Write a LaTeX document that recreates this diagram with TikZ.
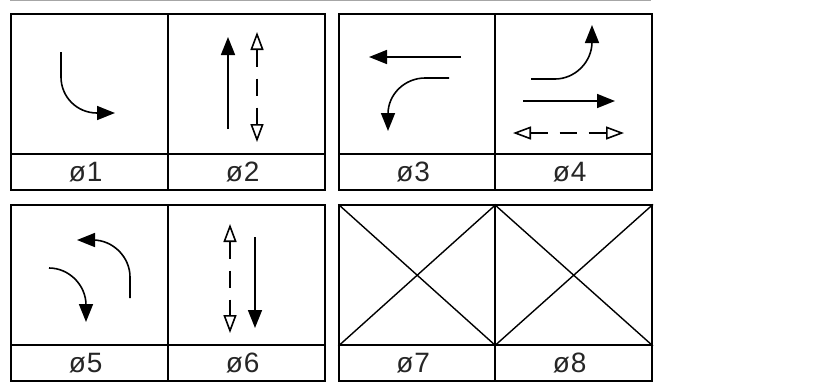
\documentclass[tikz,border=0pt]{standalone}
\usepackage{fontspec}
\setmainfont{Liberation Sans}
\usetikzlibrary{arrows.meta}
\tikzset{
  cell/.style={draw=black,line width=1.6bp,inner sep=0pt,minimum width=157bp,minimum height=140bp,anchor=north west},
  labelcell/.style={draw=black,line width=1.6bp,inner sep=0pt,minimum width=157bp,minimum height=36bp,anchor=north west,font=\fontsize{28bp}{28bp}\selectfont,text=black!85},
  narrow/.style={minimum width=156bp},
  lane/.style={line width=1.6bp,draw=black},
  solidhead/.style={lane,-{Triangle[length=18bp,width=14bp]}},
  openboth/.style={lane,dash pattern=on 17bp off 12bp,{Triangle[open,length=18bp,width=13bp]}-{Triangle[open,length=18bp,width=13bp]}},
  xline/.style={line width=1.4bp,draw=black}
}
\newcommand{\phaselabel}[1]{\raisebox{-1bp}{ø\kern1bp #1}\kern8bp}
\begin{document}
\begin{tikzpicture}[x=1bp,y=-1bp]
\useasboundingbox (0,0) rectangle (832,391);
\begin{scope}[shift={(-0.6,-0.6)}]
\coordinate (ruleL) at (11,1);
\coordinate (ruleR) at (652,1);
\draw[gray!70,line width=1.5bp] (ruleL) -- (ruleR);
% cells
\node[cell] (c1) at (11,14) {};
\node[cell] (c2) at (168,14) {};
\node[cell,narrow] (c3) at (339,14) {};
\node[cell] (c4) at (495,14) {};
\node[cell] (c5) at (11,205) {};
\node[cell] (c6) at (168,205) {};
\node[cell,narrow] (c7) at (339,205) {};
\node[cell] (c8) at (495,205) {};
\node[labelcell] (l1) at (11,154) {\phaselabel{1}};
\node[labelcell] (l2) at (168,154) {\phaselabel{2}};
\node[labelcell,narrow] (l3) at (339,154) {\phaselabel{3}};
\node[labelcell] (l4) at (495,154) {\phaselabel{4}};
\node[labelcell] (l5) at (11,345) {\phaselabel{5}};
\node[labelcell] (l6) at (168,345) {\phaselabel{6}};
\node[labelcell,narrow] (l7) at (339,345) {\phaselabel{7}};
\node[labelcell] (l8) at (495,345) {\phaselabel{8}};
\end{scope}
% phase 1
\coordinate (a1s) at (61,52);
\coordinate (a1e) at (115,113);
\draw[solidhead] (a1s) -- (61,77) .. controls (61,97) and (77,113) .. (97,113) -- (a1e);
% phase 2
\coordinate (a2s) at (228,129);
\coordinate (a2e) at (228,37);
\draw[solidhead] (a2s) -- (a2e);
\coordinate (d2s) at (257,32);
\coordinate (d2e) at (257,142);
\draw[openboth] (d2s) -- (d2e);
% phase 3
\coordinate (a3s) at (461,57);
\coordinate (a3e) at (369,57);
\draw[solidhead] (a3s) -- (a3e);
\coordinate (b3s) at (449,78);
\coordinate (b3e) at (388,131);
\draw[solidhead] (b3s) -- (425,78) .. controls (405,78) and (388,94) .. (388,114) -- (b3e);
% phase 4
\coordinate (a4s) at (531,79);
\coordinate (a4e) at (592,25);
\draw[solidhead] (a4s) -- (555,79) .. controls (575,79) and (592,62) .. (592,42) -- (a4e);
\coordinate (b4s) at (523,101);
\coordinate (b4e) at (615,101);
\draw[solidhead] (b4s) -- (b4e);
\coordinate (d4s) at (513,133);
\coordinate (d4e) at (624,133);
\draw[openboth] (d4s) -- (d4e);
% phase 5
\coordinate (a5s) at (130,298);
\coordinate (a5e) at (77,240);
\draw[solidhead] (a5s) -- (130,277) .. controls (130,257) and (113,240) .. (93,240) -- (a5e);
\coordinate (b5s) at (49,268);
\coordinate (b5e) at (86,322);
\draw[solidhead] (b5s) .. controls (69,268) and (86,285) .. (86,305) -- (b5e);
% phase 6
\coordinate (d6s) at (230,224);
\coordinate (d6e) at (230,333);
\draw[openboth] (d6s) -- (d6e);
\coordinate (a6s) at (255,237);
\coordinate (a6e) at (255,328);
\draw[solidhead] (a6s) -- (a6e);
% phases 7, 8
\draw[xline] (c7.north west) -- (c7.south east);
\draw[xline] (c7.south west) -- (c7.north east);
\draw[xline] (c8.north west) -- (c8.south east);
\draw[xline] (c8.south west) -- (c8.north east);
\end{tikzpicture}
\end{document}
